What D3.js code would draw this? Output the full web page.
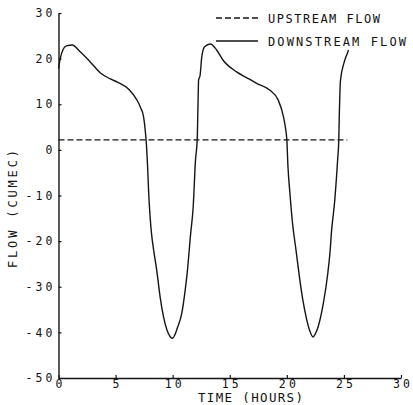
<!DOCTYPE html>
<html>
<head>
<meta charset="utf-8">
<script src="https://cdn.jsdelivr.net/npm/d3@7"></script>
<style>
html,body{margin:0;padding:0;background:#fff;}
svg{display:block;}
text{font-family:"DejaVu Sans Mono",monospace;fill:#111;}
</style>
</head>
<body>
<svg id="chart" width="413" height="405"></svg>
<script>
// ---- data ----
const xTicks = [0, 5, 10, 15, 20, 25, 30];
const yTicks = [-50, -40, -30, -20, -10, 0, 10, 20, 30];
const xTitle = "TIME  (HOURS)";
const yTitle = "FLOW  (CUMEC)";
const seriesNames = ["UPSTREAM FLOW", "DOWNSTREAM FLOW"];

const upstreamTime = [0, 25.3];
const upstreamFlow = [2.2, 2.2];

const downstreamTime = [0.0, 0.15, 0.4, 0.7, 1.2, 1.9, 2.7, 3.7, 4.5, 5.2, 6.2, 6.85, 7.2, 7.45, 7.6, 7.7, 7.8, 7.9, 8.02, 8.15, 8.33, 8.6, 8.9, 9.2, 9.5, 9.8, 10.0, 10.2, 10.4, 10.8, 11.1, 11.3, 11.55, 11.8, 12.0, 12.15, 12.22, 12.27, 12.4, 12.55, 12.8, 13.3, 13.85, 14.4, 15.6, 16.5, 17.35, 18.5, 19.25, 19.7, 19.9, 20.0, 20.1, 20.27, 20.5, 20.8, 21.1, 21.4, 21.75, 22.0, 22.3, 22.5, 22.75, 23.2, 23.55, 23.8, 23.9, 24.2, 24.45, 24.55, 24.6, 24.7, 25.0, 25.3, 25.4];
const downstreamFlow = [17.8, 20.0, 22.0, 22.8, 23.0, 21.5, 19.5, 16.8, 15.6, 14.8, 13.2, 11.0, 9.2, 7.3, 4.2, 1.2, -3.5, -9.5, -14.5, -18.4, -21.9, -26.3, -32.2, -36.6, -39.5, -41.0, -41.3, -40.5, -39.1, -35.8, -30.7, -26.3, -19.0, -12.4, -2.2, 2.2, 10.0, 15.3, 16.3, 20.4, 22.6, 23.2, 21.9, 19.7, 17.1, 15.8, 14.6, 13.1, 10.9, 7.3, 4.5, 2.2, -3.7, -9.5, -16.1, -21.9, -27.8, -32.9, -37.3, -39.6, -41.0, -40.3, -38.7, -33.6, -27.8, -21.9, -18.3, -11.0, -2.2, 2.2, 8.0, 15.3, 19.0, 21.2, 21.9];

// ---- chart ----
const svg = d3.select("#chart");
svg.append("rect").attr("width", 413).attr("height", 405).attr("fill", "#fff");

const x = d3.scaleLinear().domain([0, 30]).range([58.5, 401]);
const y = d3.scaleLinear().domain([-50, 30]).range([378, 13]);
const ink = "#151515";

const xAxis = svg.append("g").attr("transform", `translate(0,${y(-50)})`)
  .call(d3.axisBottom(x).tickValues(xTicks).tickSizeInner(-3).tickSizeOuter(0).tickPadding(2).tickFormat(d => String(d)));
const yAxis = svg.append("g").attr("transform", `translate(${x(0)},0)`)
  .call(d3.axisLeft(y).tickValues(yTicks).tickSizeInner(-3).tickSizeOuter(0).tickPadding(6).tickFormat(d => String(d)));

[xAxis, yAxis].forEach(g => {
  g.select(".domain").attr("stroke", ink).attr("stroke-width", 1.4);
  g.selectAll(".tick line").attr("stroke", ink).attr("stroke-width", 1.2);
  g.selectAll(".tick text").attr("font-family", "DejaVu Sans Mono").attr("font-size", 11.5)
    .attr("fill", ink).attr("lengthAdjust", "spacing")
    .attr("textLength", d => { const n = String(d).length; return n === 1 ? 7 : 7 + (n - 1) * 10; });
});

// axis titles
svg.append("text").attr("x", 198).attr("y", 402)
  .attr("font-size", 12.5).attr("textLength", 105).attr("lengthAdjust", "spacing").text(xTitle);
svg.append("text").attr("transform", `translate(17,268) rotate(-90)`)
  .attr("font-size", 12).attr("textLength", 118).attr("lengthAdjust", "spacing").text(yTitle);

// lines
const upLine = d3.line().x((d, i) => x(upstreamTime[i])).y(d => y(d));
svg.append("path").datum(upstreamFlow).attr("d", upLine)
  .attr("fill", "none").attr("stroke", ink).attr("stroke-width", 1.3).attr("stroke-dasharray", "6,3");

const downLine = d3.line().x((d, i) => x(downstreamTime[i])).y(d => y(d)).curve(d3.curveMonotoneX);
svg.append("path").datum(downstreamFlow).attr("d", downLine)
  .attr("fill", "none").attr("stroke", ink).attr("stroke-width", 1.4);

// legend
const legend = svg.append("g");
const legY = [18, 41];
const legLen = [112, 138];
legend.append("line").attr("x1", 216).attr("x2", 258).attr("y1", legY[0]).attr("y2", legY[0])
  .attr("stroke", ink).attr("stroke-width", 1.3).attr("stroke-dasharray", "6,3");
legend.append("line").attr("x1", 216).attr("x2", 258).attr("y1", legY[1]).attr("y2", legY[1])
  .attr("stroke", ink).attr("stroke-width", 1.3);
seriesNames.forEach((n, i) => {
  legend.append("text").attr("x", 268).attr("y", legY[i] + 4.5).attr("font-size", 12)
    .attr("textLength", legLen[i]).attr("lengthAdjust", "spacing").text(n);
});
</script>
</body>
</html>
